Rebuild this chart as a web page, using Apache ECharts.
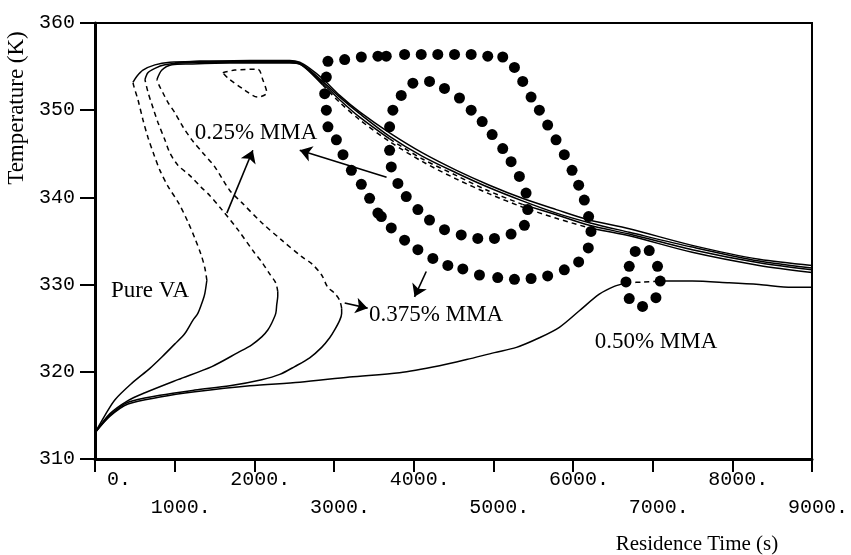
<!DOCTYPE html>
<html>
<head>
<meta charset="utf-8">
<script src="https://cdn.jsdelivr.net/npm/echarts@6/dist/echarts.min.js"></script>
<style>
  html, body { margin: 0; padding: 0; background: #fff; }
  #chart { width: 851px; height: 555px; }
</style>
</head>
<body>
<div id="chart"></div>
<script>
// Axis ticks and their printed labels
const timeTicks = [0, 1000, 2000, 3000, 4000, 5000, 6000, 7000, 8000, 9000];
const timeTickLabels = ['0.', '1000.', '2000.', '3000.', '4000.', '5000.', '6000.', '7000.', '8000.', '9000.'];
const tempTicks = [310, 320, 330, 340, 350, 360];

// Pure VA: lower stable branch, unstable middle branch, upper stable branch  [time (s), T (K)]
const pureLower = [[0,313.0],[125,315.0],[251,316.8],[464,318.7],[689,320.4],[840,321.7],[1003,323.2],[1128,324.4],[1228,325.9],[1291,326.7],[1354,328.2],[1379,329.0],[1404,330.5]];
const pureMiddle = [[1404,330.5],[1379,331.9],[1329,333.5],[1254,335.3],[1166,337.2],[1053,339.3],[915,341.3],[815,343.1],[740,344.9],[664,346.9],[602,348.9],[539,351.2],[489,352.7],[476,353.2]];
const pureUpper = [[476,353.2],[526,353.9],[602,354.6],[752,355.2],[940,355.5],[1316,355.6],[1943,355.7],[2444,355.7],[2570,355.5],[2695,354.8],[2858,353.6],[3071,351.7],[3322,349.8],[3698,347.4],[4111,345.1],[4538,343.1],[4951,341.4],[5365,339.9],[5791,338.6],[6205,337.4],[6706,336.4],[7496,334.5],[8336,332.9],[9000,332.2]];

// 0.25% MMA
const mma25Lower = [[0,313.0],[188,315.2],[414,316.7],[627,317.6],[1040,319.1],[1467,320.6],[1793,322.2],[1968,323.1],[2093,324.0],[2169,324.8],[2219,325.6],[2269,326.7],[2281,327.7],[2294,328.7],[2294,329.2]];
const mma25Middle = [[2294,329.2],[2269,330.2],[2194,331.2],[2093,332.6],[2006,333.6],[1793,336.3],[1592,338.6],[1442,340.2],[1329,341.2],[1191,342.5],[1040,343.7],[940,345.1],[877,346.6],[790,348.6],[727,350.3],[664,352.1],[627,353.5]];
const mma25UpperA = [[627,353.5],[664,354.3],[752,354.8],[877,355.2],[1065,355.4],[1442,355.5],[1943,355.5],[2444,355.5],[2570,355.3],[2695,354.5],[2858,353.1],[3071,351.2],[3322,349.2],[3698,346.7]];
const mma25UpperUnstable = [[3698,346.7],[4111,344.4],[4538,342.5],[4951,340.7],[5365,339.2]];
const mma25UpperB = [[5365,339.2],[5791,338.0],[6205,336.8],[6706,335.8],[7496,334.0],[8336,332.5],[9000,331.7]];

// 0.375% MMA
const mma375Lower = [[0,313.0],[188,315.0],[414,316.5],[815,317.3],[1254,317.9],[1692,318.4],[2093,319.1],[2319,319.7],[2507,320.6],[2695,321.6],[2845,322.8],[2946,323.9],[3008,324.8],[3071,325.9],[3096,326.7],[3096,327.3]];
const mma375Middle = [[3096,327.3],[3071,328.2],[3008,329.0],[2921,329.7],[2845,331.1],[2720,332.4],[2595,333.2],[2344,335.1],[2093,337.1],[1843,339.4],[1692,340.8],[1504,343.5],[1354,345.1],[1216,346.6],[1103,348.1],[1003,349.7],[915,350.9],[852,352.0],[802,352.9],[777,353.5]];
const mma375UpperA = [[777,353.5],[840,354.6],[965,355.2],[1191,355.3],[1692,355.4],[2444,355.4],[2570,355.3],[2695,354.4],[2858,352.9]];
const mma375UpperUnstable = [[2858,352.9],[3071,350.9],[3322,348.9],[3698,346.4],[4111,344.1],[4538,342.1],[4951,340.4],[5365,338.9],[5791,337.6],[6205,336.5]];
const mma375UpperB = [[6205,336.5],[6706,335.6],[7496,333.7],[8336,332.2],[9000,331.4]];

// 0.50% MMA
const mma50Lower = [[0,313.0],[188,314.9],[414,316.3],[815,317.1],[1254,317.7],[1943,318.4],[2570,318.8],[3196,319.4],[3823,319.9],[4325,320.7],[4663,321.4],[5014,322.2],[5290,322.8],[5578,323.9],[5829,325.1],[6080,327.0],[6330,328.9],[6518,329.8],[6669,330.2]];
const mma50Unstable = [[6669,330.2],[6882,330.3],[7095,330.4]];
const mma50Right = [[7095,330.4],[7496,330.4],[7960,330.2],[8336,330.0],[8749,329.7],[9000,329.7]];
const mma50Upper = [[1003,355.4],[1316,355.6],[1943,355.6],[2444,355.6],[2570,355.4],[2695,354.6],[2858,353.3],[3071,351.5],[3322,349.6],[3698,347.0],[4111,344.7],[4538,342.8],[4951,341.1],[5365,339.6],[5791,338.2],[6205,337.1],[6706,336.0],[7496,334.3],[8336,332.7],[9000,331.9]];
const mma50Isola = [[1604,354.3],[1755,354.6],[2043,354.7],[2106,353.5],[2156,352.0],[2043,351.5],[1880,352.3],[1667,353.7],[1604,354.3]];

// Oscillation amplitude (max / min temperature) of the periodic branches
const orbit375 = [[2924,355.6],[2904,353.8],[2883,351.9],[2904,350.0],[2924,348.1],[3030,346.6],[3113,344.9],[3218,343.1],[3343,341.5],[3447,339.9],[3551,338.2],[3594,337.8],[3719,336.5],[3886,335.1],[4053,334.0],[4241,333.0],[4429,332.2],[4617,331.8],[4826,331.1],[5055,330.8],[5265,330.6],[5474,330.7],[5682,331.0],[5891,331.7],[6071,332.6],[6192,334.2],[6226,336.1],[6196,337.8],[6142,339.7],[6071,341.4],[5988,343.1],[5891,344.9],[5787,346.6],[5682,348.3],[5578,350.0],[5474,351.5],[5369,353.3],[5265,354.9],[5118,356.1],[4930,356.2],[4722,356.4],[4513,356.4],[4303,356.4],[4095,356.4],[3886,356.4],[3656,356.2],[3551,356.2],[3343,356.1],[3134,355.8]];
const orbit25 = [[3990,353.1],[4199,353.3],[4387,352.5],[4575,351.4],[4722,350.0],[4860,348.7],[4985,347.2],[5118,345.6],[5223,344.1],[5327,342.4],[5411,340.5],[5432,338.6],[5390,336.8],[5223,335.8],[5014,335.3],[4805,335.3],[4597,335.7],[4387,336.3],[4199,337.4],[4053,338.6],[3907,340.1],[3802,341.6],[3719,343.5],[3698,345.4],[3698,348.1],[3739,350.0],[3844,351.7]];
const orbit50 = [[6781,333.8],[6957,333.9],[6706,332.1],[7061,332.1],[6665,330.3],[7095,330.4],[6706,328.4],[7041,328.5],[6873,327.5]];

// Pointer arrows from the annotations to the curves [from, to]
const arrows = [
  [[1655,338.2],[1981,345.4]],
  [[3660,342.3],[2570,345.4]],
  [[3134,327.9],[3422,327.3]],
  [[4158,331.5],[4011,328.6]]
];

const MONO = '"Liberation Mono", "DejaVu Sans Mono", monospace';
const SERIF = '"Liberation Serif", "DejaVu Serif", serif';
const INK = '#000';

function curve(data, dashed) {
  return {
    type: 'line', data: data, smooth: 0.3, symbol: 'none', showSymbol: false,
    silent: true, z: 3,
    lineStyle: { color: INK, width: 1.5, type: dashed ? [5, 4] : 'solid' }
  };
}
function dots(data) {
  return {
    type: 'scatter', data: data, symbol: 'circle', symbolSize: 11, silent: true, z: 5,
    itemStyle: { color: INK, opacity: 1 }
  };
}

const chart = echarts.init(document.getElementById('chart'), null, { renderer: 'canvas' });

const tickLabel = (showOdd) => (v) => {
  const i = timeTicks.indexOf(v);
  if (i < 0 || (i % 2 === 1) !== showOdd) return '';
  return timeTickLabels[i].padStart(6, ' ');
};

chart.setOption({
  animation: false,
  backgroundColor: '#fff',
  grid: { left: 95, top: 23, width: 718, height: 436, show: true, borderColor: INK, borderWidth: 2, backgroundColor: 'transparent' },
  xAxis: [
    {
      type: 'value', min: 0, max: 9000, interval: 1000, position: 'bottom',
      axisLine: { show: true, onZero: false, lineStyle: { color: INK, width: 3 } },
      axisTick: { show: true, length: 13, lineStyle: { color: INK, width: 2 } },
      splitLine: { show: false },
      axisLabel: { show: true, margin: 11, color: INK, fontFamily: MONO, fontSize: 20, formatter: tickLabel(false) }
    },
    {
      type: 'value', min: 0, max: 9000, interval: 1000, position: 'bottom',
      axisLine: { show: false }, axisTick: { show: false }, splitLine: { show: false },
      axisLabel: { show: true, margin: 39, color: INK, fontFamily: MONO, fontSize: 20, formatter: tickLabel(true) }
    }
  ],
  yAxis: {
    type: 'value', min: tempTicks[0], max: tempTicks[tempTicks.length - 1], interval: 10,
    axisLine: { show: true, onZero: false, lineStyle: { color: INK, width: 3 } },
    axisTick: { show: true, length: 15, lineStyle: { color: INK, width: 2 } },
    splitLine: { show: false },
    axisLabel: { margin: 20, color: INK, fontFamily: MONO, fontSize: 20, padding: [0, 0, 10, 0] }
  },
  graphic: [
    { type: 'text', x: 697, y: 544, style: { text: 'Residence Time (s)', font: '21px ' + SERIF, fill: INK, textAlign: 'center', textVerticalAlign: 'middle' } },
    { type: 'text', x: 17, y: 108, rotation: Math.PI / 2, style: { text: 'Temperature (K)', font: '23px ' + SERIF, fill: INK, textAlign: 'center', textVerticalAlign: 'middle' } },
    { type: 'text', x: 150, y: 291, style: { text: 'Pure VA', font: '23px ' + SERIF, fill: INK, textAlign: 'center', textVerticalAlign: 'middle' } },
    { type: 'text', x: 256, y: 133, style: { text: '0.25% MMA', font: '23px ' + SERIF, fill: INK, textAlign: 'center', textVerticalAlign: 'middle' } },
    { type: 'text', x: 436, y: 315, style: { text: '0.375% MMA', font: '23px ' + SERIF, fill: INK, textAlign: 'center', textVerticalAlign: 'middle' } },
    { type: 'text', x: 656, y: 342, style: { text: '0.50% MMA', font: '23px ' + SERIF, fill: INK, textAlign: 'center', textVerticalAlign: 'middle' } }
  ],
  series: [
    curve(pureLower), curve(pureMiddle, true), curve(pureUpper),
    curve(mma25Lower), curve(mma25Middle, true), curve(mma25UpperA), curve(mma25UpperUnstable, true), curve(mma25UpperB),
    curve(mma375Lower), curve(mma375Middle, true), curve(mma375UpperA), curve(mma375UpperUnstable, true), curve(mma375UpperB),
    curve(mma50Lower), curve(mma50Unstable, true), curve(mma50Right), curve(mma50Upper), curve(mma50Isola, true),
    dots(orbit375), dots(orbit25), dots(orbit50),
    {
      type: 'lines', coordinateSystem: 'cartesian2d', silent: true, z: 4,
      symbol: ['none', 'arrow'], symbolSize: 12,
      lineStyle: { color: INK, width: 1.6, opacity: 1, curveness: 0 },
      data: arrows.map(a => ({ coords: a }))
    }
  ]
});
</script>
</body>
</html>
